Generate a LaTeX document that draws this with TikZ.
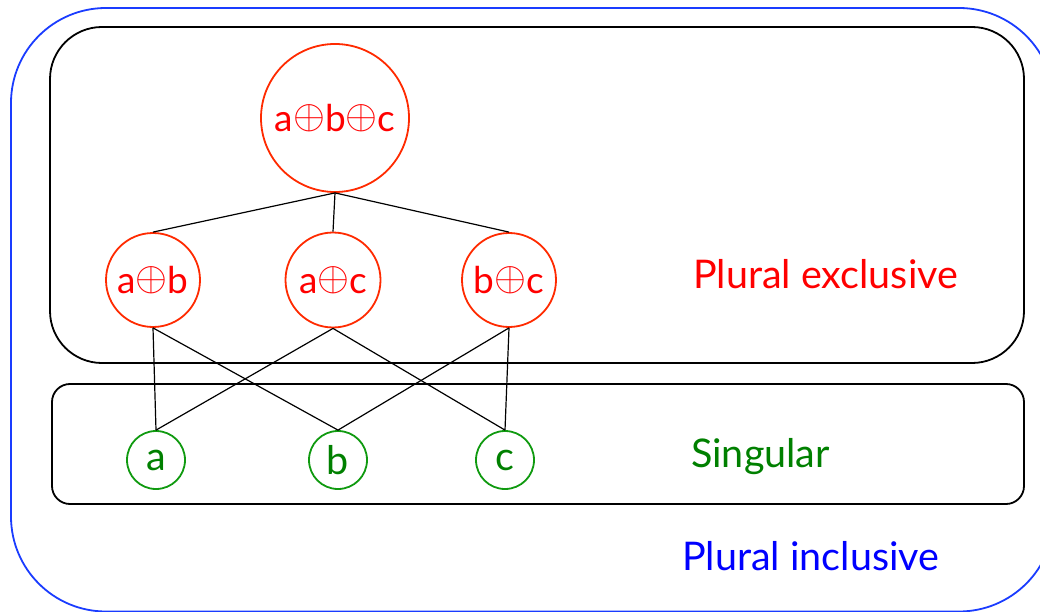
\documentclass[tikz,border=0pt]{standalone}
\usepackage{graphicx}
\usepackage{fontspec}
\setmainfont{Lato}
\newcommand{\xop}{\raisebox{3.3pt}{\scalebox{1.65}{$\oplus$}}}
\definecolor{bluebox}{HTML}{1A3CFF}
\definecolor{redline}{HTML}{FF2A00}
\definecolor{redtext}{HTML}{FF0000}
\definecolor{greenline}{HTML}{109A10}
\definecolor{greentext}{HTML}{008000}
\definecolor{bluetext}{HTML}{0000FF}
\begin{document}
\begin{tikzpicture}[x=1pt,y=-1pt,
  labelfont/.style={font=\fontsize{39.5}{44}\selectfont},
  redc/.style={circle, draw=redline, line width=1.8pt, text=redtext, inner sep=0pt, font=\fontsize{37}{42}\selectfont},
  greenc/.style={circle, draw=greenline, line width=1.8pt, text=greentext, inner sep=0pt, minimum size=58pt, labelfont},
  boxline/.style={draw=black, line width=1.8pt},
  link/.style={draw=black, line width=1.2pt},
  lbl/.style={anchor=base west, inner sep=0pt, labelfont}]
\useasboundingbox (0,0) rectangle (1040,612);
\draw[draw=bluebox, line width=1.8pt, rounded corners=95pt] (11,8) rectangle (1054,611.5);
\draw[boxline, rounded corners=52pt] (50,27) rectangle (1024,363);
\draw[boxline, rounded corners=18pt] (52,384) rectangle (1024,504);
\node[redc, minimum size=148pt] (abc) at (335,118) {a\xop b\xop c};
\node[redc, minimum size=94pt] (ab) at (153,280) {a\xop b};
\node[redc, minimum size=95pt] (ac) at (333,280) {a\xop c};
\node[redc, minimum size=94pt] (bc) at (509,280) {b\xop c};
\node[greenc] (a) at (156,460) {a};
\node[greenc] (b) at (338,460) {b};
\node[greenc] (c) at (505,460) {c};
\node[lbl, text=redtext] (pe) at (693,288) {Plural exclusive};
\node[lbl, text=greentext] (sg) at (691,467) {Singular};
\node[lbl, text=bluetext] (pi) at (682,570) {Plural inclusive};
\draw[link] (abc.south) -- (ab.north);
\draw[link] (abc.south) -- (ac.north);
\draw[link] (abc.south) -- (bc.north);
\draw[link] (ab.south) -- (a.north);
\draw[link] (ab.south) -- (b.north);
\draw[link] (ac.south) -- (a.north);
\draw[link] (ac.south) -- (c.north);
\draw[link] (bc.south) -- (b.north);
\draw[link] (bc.south) -- (c.north);
\end{tikzpicture}
\end{document}
